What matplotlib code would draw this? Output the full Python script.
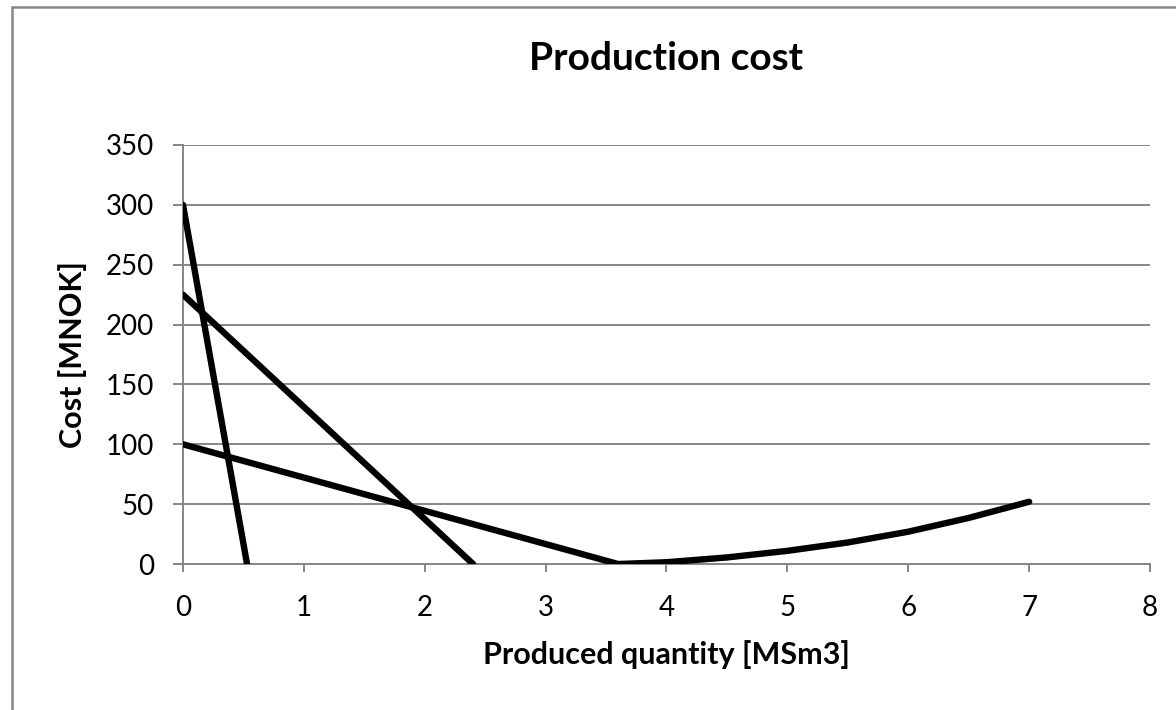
import matplotlib.pyplot as plt
from matplotlib.patches import Rectangle

plt.rcParams['font.family'] = ['Lato', 'DejaVu Sans']

# cost curves (MNOK) against produced quantity (MSm3)
steep_x = [0, 0.53]
steep_y = [300, 0]

mid_x = [0, 2.4]
mid_y = [225, 0]

flat_x = [0, 3.6, 4, 4.5, 5, 5.5, 6, 6.5, 7]
flat_y = [100, 0, 1.5, 5.5, 11, 18, 27, 38.5, 52]

x_ticks = [0, 1, 2, 3, 4, 5, 6, 7, 8]
y_ticks = [0, 50, 100, 150, 200, 250, 300, 350]

grey = '#868686'

fig = plt.figure(figsize=(11.76, 7.10), dpi=100)
ax = fig.add_axes([0.1556, 0.2056, 0.8223, 0.5902])

for xs, ys in [(steep_x, steep_y), (mid_x, mid_y), (flat_x, flat_y)]:
    ax.plot(xs, ys, color='black', lw=4.6, solid_capstyle='round',
            solid_joinstyle='round', zorder=3)

ax.set_xlim(0, 8)
ax.set_ylim(0, 350)
ax.set_xticks(x_ticks)
ax.set_yticks(y_ticks)

ax.grid(axis='y', color=grey, lw=1.4)
ax.set_axisbelow(True)
for side in ['top', 'right']:
    ax.spines[side].set_visible(False)
for side in ['left', 'bottom']:
    ax.spines[side].set_color(grey)
    ax.spines[side].set_linewidth(1.4)

ax.tick_params(axis='y', length=7, width=1.4, color=grey, pad=14,
               labelsize=20)
ax.tick_params(axis='x', length=6, width=1.4, color=grey, pad=16,
               labelsize=20)

ax.set_title('Production cost', fontsize=28, fontweight='bold', pad=54)
ax.set_xlabel('Produced quantity [MSm3]', fontsize=22, fontweight='bold',
              labelpad=14)
ax.set_ylabel('Cost [MNOK]', fontsize=22, fontweight='bold', labelpad=13)

# chart area border
fig.patches.append(Rectangle((0.0102, -0.05), 1.2, 1.0401,
                             transform=fig.transFigure, fill=False,
                             edgecolor=grey, lw=1.8))

fig.savefig('out.png', dpi=100)
